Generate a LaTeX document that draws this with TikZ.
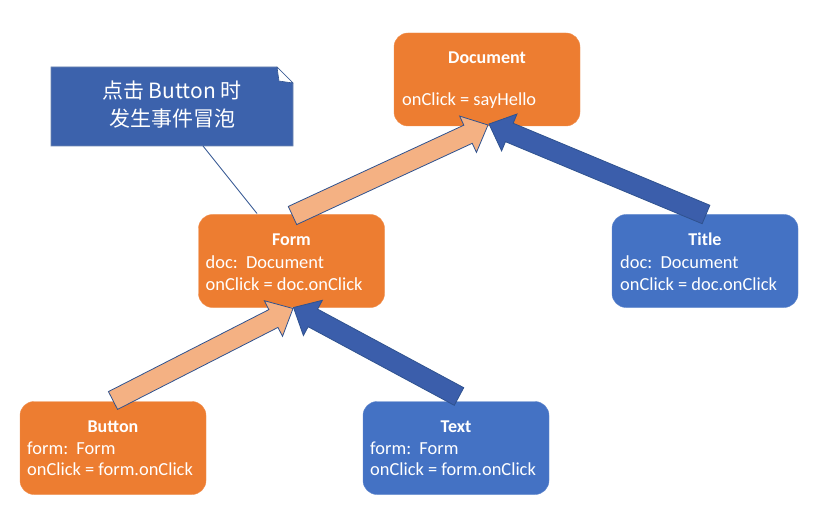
\documentclass[tikz,border=0pt]{standalone}
\usepackage{fontspec}
\setmainfont{Carlito}
\newfontfamily\cjk{Noto Sans CJK SC}
\usetikzlibrary{calc}
\definecolor{orng}{HTML}{ED7D31}
\definecolor{lorng}{HTML}{F4B183}
\definecolor{blu}{HTML}{4472C4}
\definecolor{dblu}{HTML}{3C62AC}
\definecolor{arblu}{HTML}{3B5EAB}
\definecolor{edge}{HTML}{2F528F}
\newcommand\barrow[3]{%
  \coordinate (bn) at ($(#2)!22pt!(#1)$);
  \draw[#3] ($(#1)!10pt!90:(#2)$) -- ($(bn)!10pt!90:(#2)$) -- ($(bn)!20pt!90:(#2)$)
    -- (#2) -- ($(bn)!20pt!-90:(#2)$) -- ($(bn)!10pt!-90:(#2)$) -- ($(#1)!10pt!-90:(#2)$) -- cycle;}
\begin{document}
\begin{tikzpicture}[x=1pt,y=-1pt,
  box/.style={rounded corners=14pt,minimum width=186pt,minimum height=93pt,inner sep=0pt,outer sep=0pt},
  obox/.style={box,fill=orng,draw=orng!85!white},
  bbox/.style={box,fill=blu,draw=blu!85!white},
  ttl/.style={text=white,font=\fontsize{18}{20}\selectfont\bfseries,inner sep=0pt},
  ln/.style={text=white,font=\fontsize{18.4}{20}\selectfont,anchor=west,inner sep=0pt},
  oarrow/.style={fill=lorng,draw=edge,line width=0.8pt,line join=miter},
  barrowst/.style={fill=arblu,draw=edge,line width=0.8pt,line join=miter}]
\useasboundingbox (0,0) rectangle (824,521);
\fill[white] (0,0) rectangle (824,521);

% boxes
\node[obox] (doc) at (487,79.5) {};
\node[obox] (form) at (291.5,261) {};
\node[bbox] (title) at (705,261) {};
\node[obox] (button) at (113,448) {};
\node[bbox] (text) at (456,448) {};

% texts
\node[ttl] (docT) at ($(doc.north)+(0,25)$) {Document};
\node[ln] (docL) at ($(doc.north west)+(8,68)$) {onClick = sayHello};

\node[ttl] (formT) at ($(form.north)+(0,25)$) {Form};
\node[ln] (formL1) at ($(form.north west)+(7,48)$) {doc:\ \ Document};
\node[ln] (formL2) at ($(form.north west)+(7,70)$) {onClick = doc.onClick};

\node[ttl] (titleT) at ($(title.north)+(0,25)$) {Title};
\node[ln] (titleL1) at ($(title.north west)+(8,48)$) {doc:\ \ Document};
\node[ln] (titleL2) at ($(title.north west)+(8,70)$) {onClick = doc.onClick};

\node[ttl] (buttonT) at ($(button.north)+(0,25)$) {Button};
\node[ln] (buttonL1) at ($(button.north west)+(7,47)$) {form:\ \ Form};
\node[ln] (buttonL2) at ($(button.north west)+(7,68)$) {onClick = form.onClick};

\node[ttl] (textT) at ($(text.north)+(0,25)$) {Text};
\node[ln] (textL1) at ($(text.north west)+(7,47)$) {form:\ \ Form};
\node[ln] (textL2) at ($(text.north west)+(7,68)$) {onClick = form.onClick};

% arrow end points
\coordinate (a1t) at ($(form.north)+(1,1)$);
\coordinate (a1h) at ($(doc.south)+(1,-1)$);
\coordinate (a2t) at ($(title.north)+(1,0)$);
\coordinate (a2h) at ($(doc.south)+(2,-2)$);
\coordinate (a3t) at ($(button.north)+(0,-1)$);
\coordinate (a3h) at ($(form.south)+(1.5,1)$);
\coordinate (a4t) at ($(text.north)+(3,-5)$);
\coordinate (a4h) at ($(form.south)+(2,0)$);

\barrow{a1t}{a1h}{oarrow}
\barrow{a2t}{a2h}{barrowst}
\barrow{a3t}{a3h}{oarrow}
\barrow{a4t}{a4h}{barrowst}

% callout
\filldraw[fill=dblu,draw=edge!70!white,line width=0.6pt] (51,67) -- (277,67) -- (293,83) -- (293,146) -- (51,146) -- cycle;
\filldraw[fill=white,draw=edge,line width=0.6pt,line join=round] (277,67) -- (293,83) -- (279,81) -- cycle;
\node[text=white,font=\cjk\fontsize{21}{28}\selectfont,align=center,inner sep=0pt] (callout) at (172,105) {点击 Button 时\\发生事件冒泡};
\coordinate (cA) at (203,146);
\draw[edge,line width=0.8pt] (cA) -- ($(form.north)+(-34.5,-1)$);
\end{tikzpicture}
\end{document}
